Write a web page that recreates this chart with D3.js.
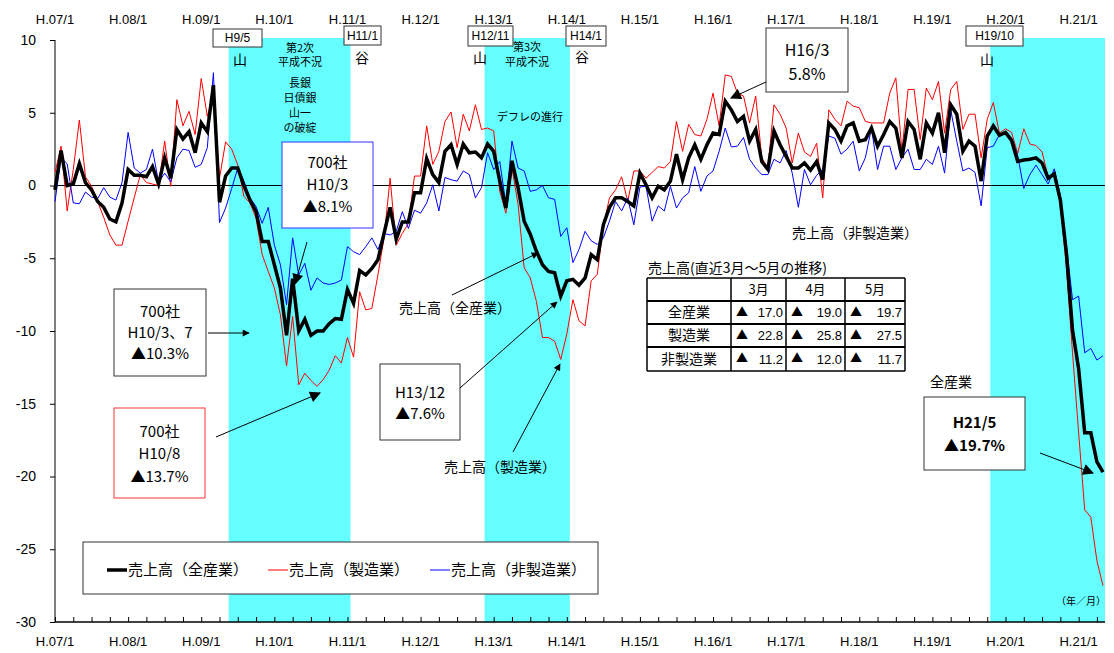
<!DOCTYPE html>
<html><head><meta charset="utf-8">
<script src="https://cdn.jsdelivr.net/npm/d3@7"></script>
<style>
body{margin:0;background:#fff;}
svg{display:block;}
.jp{font-family:"Noto Sans CJK JP","Noto Sans",sans-serif;}
.ax{font-family:"Liberation Sans Narrow","Arial Narrow","Liberation Sans",sans-serif;}
</style></head>
<body>
<svg id="c" width="1114" height="653"></svg>
<script>
// ---- data (monthly, H7/1 .. H21/5), % change from previous year ----
const yearLabels = ["H.07/1","H.08/1","H.09/1","H.10/1","H.11/1","H.12/1","H.13/1","H.14/1","H.15/1","H.16/1","H.17/1","H.18/1","H.19/1","H.20/1","H.21/1"];
const yTicks = [10,5,0,-5,-10,-15,-20,-25,-30];
const allIndustry = [
-0.3,2.4,0.0,0.1,1.5,0.2,-0.3,-1.1,-1.5,-2.3,-2.5,-1.2,
1.1,0.7,0.7,0.6,1.3,0.1,1.9,0.5,3.85,3.2,3.7,2.25,
4.3,3.7,6.9,-1.15,0.65,1.2,1.2,0.0,-1.0,-1.8,-3.85,-3.85,
-5.45,-7.05,-10.3,-6.4,-10.0,-9.2,-10.3,-10.0,-10.0,-9.5,-9.15,-9.2,
-7.15,-8.1,-5.85,-6.15,-5.7,-5.1,-3.3,-1.5,-3.7,-2.5,-2.5,-0.5,
-0.5,1.85,0.75,0.2,2.35,2.8,1.45,2.85,2.25,2.3,1.9,2.85,
2.35,0.3,-1.55,1.7,-0.15,-2.45,-3.35,-4.5,-5.45,-5.9,-6.0,-7.6,
-6.55,-6.45,-6.85,-6.35,-4.75,-5.1,-2.7,-1.5,-0.85,-0.85,-1.1,-1.4,
0.85,0.05,-0.85,-0.05,-0.3,0.3,2.15,0.4,1.9,2.8,1.8,2.8,
3.6,3.5,5.8,5.2,4.4,4.75,3.05,3.85,1.65,1.1,3.75,2.8,
2.0,1.2,1.2,1.55,1.05,1.65,0.4,4.3,3.85,3.05,4.1,4.3,
3.05,3.15,3.95,2.7,3.5,4.4,3.95,1.9,4.4,3.85,1.8,4.3,
3.6,5.0,2.25,5.55,4.9,2.35,3.05,2.7,0.3,3.4,4.1,3.45,
3.65,3.1,1.65,1.75,1.8,1.9,1.55,0.5,0.8,-1.0,-4.65,-9.95,
-12.6,-17.0,-17.0,-19.0,-19.7];
const manufacturing = [
0.9,2.7,-1.75,1.1,4.5,0.6,-0.05,-1.1,-2.2,-3.4,-4.1,-4.1,
-2.45,-0.85,0.75,0.2,0.1,0.0,3.05,-0.05,5.9,4.1,5.1,3.5,
7.35,4.75,6.25,0.5,3.0,2.5,1.4,-0.75,-1.2,-2.25,-4.75,-5.9,
-7.05,-8.9,-12.4,-9.0,-13.7,-12.9,-13.4,-13.8,-13.35,-12.7,-11.7,-12.2,
-10.45,-11.8,-7.3,-8.55,-8.45,-6.15,-3.6,0.5,-4.1,-3.3,-2.6,0.65,
0.65,4.1,1.45,2.35,4.4,5.05,2.6,4.9,3.75,5.55,3.85,3.95,
3.75,-0.4,-1.9,1.2,-1.3,-5.65,-6.35,-7.95,-10.45,-10.45,-10.7,-11.95,
-10.2,-7.85,-9.3,-9.65,-6.55,-6.1,-2.8,-0.85,-0.3,0.6,-1.1,1.0,
1.0,0.5,0.9,1.3,1.2,1.65,4.4,2.35,4.2,3.5,3.4,4.55,
6.35,4.1,7.6,7.5,6.35,6.15,4.3,6.15,1.9,1.2,5.55,4.9,
3.95,1.55,3.6,2.3,2.0,2.9,-0.85,5.2,4.55,4.1,5.8,5.45,
5.35,4.4,4.3,4.3,4.3,6.35,7.4,2.35,6.6,6.6,3.15,6.7,
5.9,7.15,3.6,6.6,7.15,3.85,4.9,4.9,1.9,4.55,5.7,3.6,
3.9,3.65,2.2,3.9,2.85,2.75,2.3,0.6,0.65,-1.25,-5.7,-11.5,
-17.0,-22.3,-22.8,-25.8,-27.5];
const nonManufacturing = [
-1.1,1.9,1.5,-1.2,-1.25,-0.45,-0.8,-0.9,-0.15,-0.8,-1.0,0.2,
3.65,1.2,0.85,1.1,2.5,0.2,0.85,0.25,1.9,2.5,2.4,1.25,
1.45,2.6,7.75,-2.55,-1.55,-0.2,1.2,0.3,-0.85,-1.45,-2.6,-1.5,
-4.1,-5.45,-8.2,-3.6,-6.15,-5.35,-7.2,-6.35,-6.7,-6.8,-6.7,-6.5,
-4.2,-4.55,-4.75,-4.2,-3.6,-4.4,-3.3,-3.4,-3.15,-1.8,-2.95,-1.7,
-1.9,-1.2,0.05,-1.75,0.55,0.4,0.3,1.0,0.75,-0.85,-0.15,2.25,
1.1,1.65,-1.3,3.05,1.2,1.0,-0.4,-0.3,0.0,-0.85,-0.95,-3.5,
-2.9,-5.3,-4.4,-3.15,-3.8,-4.05,-3.6,-2.45,-1.1,-1.75,-0.85,-2.7,
-0.1,-0.05,-2.45,-1.4,-1.75,-0.05,-1.55,-0.85,-0.5,1.3,-0.4,0.65,
1.0,2.35,3.95,2.65,2.7,3.3,1.8,1.2,0.75,0.75,1.8,1.55,
2.4,0.85,-1.5,1.1,0.05,0.7,1.1,3.4,3.25,2.15,2.5,3.05,
1.0,1.9,3.95,1.1,2.7,2.7,1.1,1.9,2.5,1.1,1.1,1.8,
1.45,2.7,0.85,5.2,3.05,1.0,1.2,0.9,-1.4,2.6,2.7,3.5,
3.7,3.25,2.05,-0.2,0.75,1.4,0.75,0.1,1.15,-0.7,-4.15,-7.85,
-7.6,-11.5,-11.2,-12.0,-11.7];
// recession periods (month index: peak -> trough)
const recessions = [[28,48],[70,84],[153,172]];
// table
const tableCols = ["3月","4月","5月"];
const tableRows = ["全産業","製造業","非製造業"];
const tableVals = [[17.0,19.0,19.7],[22.8,25.8,27.5],[11.2,12.0,11.7]];

const svg = d3.select("#c");
const x = d3.scaleLinear().domain([0,172]).range([55,1103]);
const y = d3.scaleLinear().domain([-30,10]).range([622,40]);

// defs arrow
svg.append("defs").append("marker").attr("id","ah").attr("viewBox","0 0 10 10")
  .attr("refX",9).attr("refY",5).attr("markerWidth",9).attr("markerHeight",7)
  .attr("markerUnits","userSpaceOnUse").attr("orient","auto")
  .append("path").attr("d","M0,0 L10,5 L0,10 z").attr("fill","#000");
svg.select("defs").append("marker").attr("id","ahB").attr("viewBox","0 0 10 10")
  .attr("refX",9).attr("refY",5).attr("markerWidth",14).attr("markerHeight",11)
  .attr("markerUnits","userSpaceOnUse").attr("orient","auto")
  .append("path").attr("d","M0,0 L10,5 L0,10 z").attr("fill","#000");

// shading
recessions.forEach((r,k)=>{
  const x0 = x(r[0]+0.5), x1 = k===2 ? 1105 : x(r[1]+0.5);
  svg.append("rect").attr("x",x0).attr("y",38).attr("width",x1-x0).attr("height",622-38).attr("fill","#66ffff");
});

// zero line
svg.append("line").attr("x1",55).attr("x2",1105).attr("y1",y(0)).attr("y2",y(0)).attr("stroke","#000").attr("stroke-width",1);

// y axis
const yAxis = d3.axisLeft(y).tickValues(yTicks).tickSize(5).tickFormat(d=>d<0?"-"+Math.abs(d):d);
const ga = svg.append("g").attr("transform","translate(55,0)").call(yAxis);
ga.select(".domain").attr("stroke","#000").attr("d","M0,40V622");
ga.selectAll("text").attr("class","ax").attr("font-size",14).attr("x",-19).attr("fill","#000");

// bottom axis with quarterly ticks
const qTicks = d3.range(0,173,3);
const gb = svg.append("g").attr("transform","translate(0,622)")
  .call(d3.axisTop(x).tickValues(qTicks).tickSize(5).tickFormat(""));
gb.select(".domain").attr("d","M55,0H1105").attr("stroke","#000").attr("stroke-width",1.5);

// year labels top and bottom
yearLabels.forEach((t,k)=>{
  [19,641].forEach(yy=>{
    svg.append("text").attr("class","ax").attr("x",x(12*k)).attr("y",yy).attr("dy","0.35em")
      .attr("text-anchor","middle").attr("font-size",13).text(t);
  });
});

// lines
const line = d3.line().x((d,i)=>x(i)).y(d=>y(d));
svg.append("path").datum(manufacturing).attr("d",line).attr("fill","none").attr("stroke","#ff0000").attr("stroke-width",1);
svg.append("path").datum(nonManufacturing).attr("d",line).attr("fill","none").attr("stroke","#0000ff").attr("stroke-width",1);
svg.append("path").datum(allIndustry).attr("d",line).attr("fill","none").attr("stroke","#000").attr("stroke-width",3.5).attr("stroke-linejoin","miter");

// helpers
function box(x0,y0,w,h,stroke,lines,opts={}){
  svg.append("rect").attr("x",x0).attr("y",y0).attr("width",w).attr("height",h)
    .attr("fill","#fff").attr("stroke",stroke).attr("stroke-width",opts.sw||1);
  lines.forEach(l=>{
    svg.append("text").attr("class",opts.cls||"jp").attr("x",x0+w/2).attr("y",l[1]).attr("dy","0.35em")
      .attr("text-anchor","middle").attr("font-size",opts.fs||15).attr("font-weight",opts.fw||"normal").text(l[0]);
  });
}
function txt(t,xx,yy,fs,anchor){
  return svg.append("text").attr("class","jp").attr("x",xx).attr("y",yy).attr("dy","0.35em")
    .attr("text-anchor",anchor||"middle").attr("font-size",fs).text(t);
}
function arrow(x1,y1,x2,y2,big){
  svg.append("line").attr("x1",x1).attr("y1",y1).attr("x2",x2).attr("y2",y2)
    .attr("stroke","#000").attr("stroke-width",1).attr("marker-end",big?"url(#ahB)":"url(#ah)");
}

// top period boxes
box(213,29,49,18,"#333",[["H9/5",38]],{cls:"ax",fs:12});
box(344,26,37,19,"#333",[["H11/1",35.5]],{cls:"ax",fs:12});
box(468,26,45,20,"#333",[["H12/11",36]],{cls:"ax",fs:12});
box(566,26,40,20,"#333",[["H14/1",36]],{cls:"ax",fs:12});
box(966,26,57,20,"#333",[["H19/10",36]],{cls:"ax",fs:12});
txt("山",240,60,14); txt("谷",362,58,14); txt("山",480,58,14); txt("谷",582,57,14); txt("山",987,60,14);

// period notes
[["第2次",48],["平成不況",62],["長銀",83],["日債銀",98],["山一",113],["の破綻",128]].forEach(d=>txt(d[0],300,d[1],11));
[["第3次",47],["平成不況",62]].forEach(d=>txt(d[0],527,d[1],11));
txt("デフレの進行",530,117,11);

// annotation boxes
box(282,142,91,86,"#3333ff",[["700社",163],["H10/3",185],["▲8.1%",207]],{fs:15});
arrow(307,242,295,284,true);
box(114,289,92,87,"#333",[["700社",312],["H10/3、7",333],["▲10.3%",354]],{fs:15});
arrow(208,333,249,333);
box(114,408,91,90,"#ff3333",[["700社",432],["H10/8",454],["▲13.7%",477]],{fs:15});
arrow(216,437,320,393,true);

txt("売上高（全産業）",455,308,14);
arrow(452,295,538,253);
box(380,364,80,76,"#333",[["H13/12",393],["▲7.6%",414]],{fs:15});
arrow(460,388,557,302);
txt("売上高（製造業）",500,467,14);
arrow(513,452,560,364);

box(766,28,82,64,"#333",[["H16/3",50],["5.8%",74]],{fs:16});
arrow(766,82,731,98,true);
txt("売上高（非製造業）",855,233,14);

txt("全産業",951,382,14);
box(924,397,101,73,"#333",[["H21/5",423],["▲19.7%",446]],{fs:15,fw:"bold"});
arrow(1040,453,1093,473,true);
txt("（年／月）",1081,601,10);

// table
txt("売上高(直近3月～5月の推移)",648,268,14,"start");
const tx = [647,731,786,845,905], ty = [278,301,324,347,371];
ty.forEach((yy,k)=>svg.append("line").attr("x1",647).attr("x2",905).attr("y1",yy).attr("y2",yy).attr("stroke","#000").attr("stroke-width",k===0||k===4?1.5:2));
tx.forEach(xx=>svg.append("line").attr("x1",xx).attr("x2",xx).attr("y1",278).attr("y2",371).attr("stroke","#000").attr("stroke-width",1.5));
tableCols.forEach((c,j)=>txt(c,(tx[j+1]+tx[j+2])/2,289.5,13));
tableRows.forEach((r,i)=>{
  txt(r,(tx[0]+tx[1])/2,(ty[i+1]+ty[i+2])/2,14);
  tableVals[i].forEach((v,j)=>{
    const cy=(ty[i+1]+ty[i+2])/2;
    txt("▲",tx[j+1]+5,cy,12,"start");
    svg.append("text").attr("class","ax").attr("x",tx[j+2]-3).attr("y",cy).attr("dy","0.35em").attr("text-anchor","end").attr("font-size",13).text(v.toFixed(1));
  });
});

// legend
svg.append("rect").attr("x",83).attr("y",542).attr("width",515).attr("height",52).attr("fill","#fff").attr("stroke","#333").attr("stroke-width",1);
[[107,"#000",3.5,"売上高（全産業）"],[268,"#ff0000",1,"売上高（製造業）"],[430,"#0000ff",1,"売上高（非製造業）"]].forEach(d=>{
  svg.append("line").attr("x1",d[0]).attr("x2",d[0]+20).attr("y1",570).attr("y2",570).attr("stroke",d[1]).attr("stroke-width",d[2]);
  txt(d[3],d[0]+21,570,15,"start");
});
</script>
</body></html>
